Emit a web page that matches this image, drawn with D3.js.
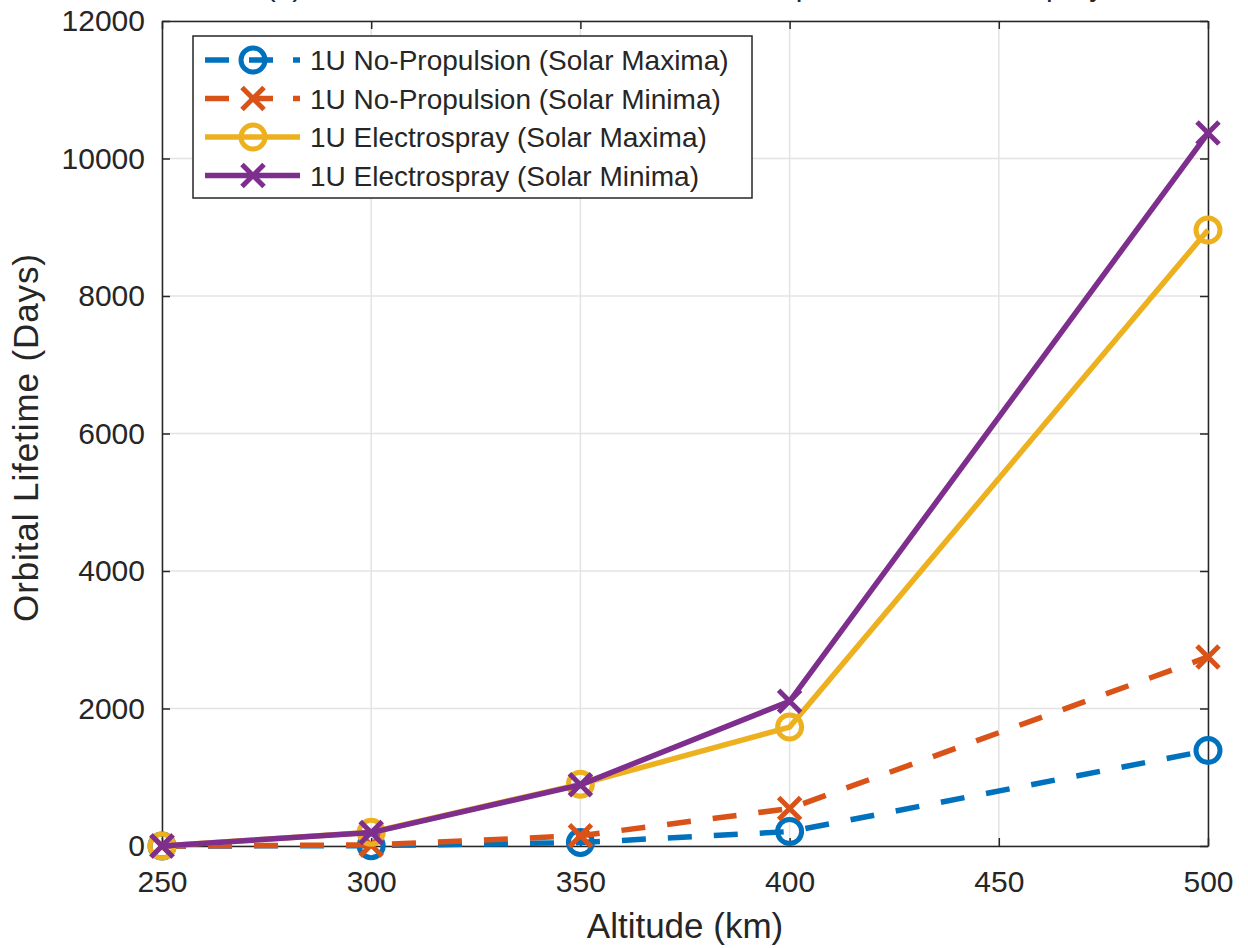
<!DOCTYPE html>
<html>
<head>
<meta charset="utf-8">
<script src="https://cdn.jsdelivr.net/npm/d3@7"></script>
<style>
  body { margin: 0; background: #fff; }
  text { font-family: "Liberation Sans", Arial, sans-serif; fill: #262626; }
</style>
</head>
<body>
<div id="chart"></div>
<script>
// altitude (km)
var altitudes = [250, 300, 350, 400, 500];
// orbital lifetime (days)
var noPropMax = [0, 5, 50, 210, 1390];
var noPropMin = [0, 15, 150, 545, 2750];
var esprayMax = [0, 200, 900, 1730, 8960];
var esprayMin = [0, 195, 890, 2105, 10370];
var xTicks = [250, 300, 350, 400, 450, 500];
var yTicks = [0, 2000, 4000, 6000, 8000, 10000, 12000];

var series = [
  { name: "1U No-Propulsion (Solar Maxima)", values: noPropMax, color: "#0072BD", dash: "24,22", marker: "o" },
  { name: "1U No-Propulsion (Solar Minima)", values: noPropMin, color: "#D95319", dash: "24,22", marker: "x" },
  { name: "1U Electrospray (Solar Maxima)", values: esprayMax, color: "#EDB120", dash: null, marker: "o" },
  { name: "1U Electrospray (Solar Minima)", values: esprayMin, color: "#7E2F8E", dash: null, marker: "x" }
];

var width = 1248, height = 948;
var margin = { left: 162, right: 40, top: 21, bottom: 102 };

var svg = d3.select("#chart").append("svg")
  .attr("width", width)
  .attr("height", height);

var x = d3.scaleLinear().domain([250, 500]).range([margin.left, width - margin.right]);
var y = d3.scaleLinear().domain([0, 12000]).range([height - margin.bottom, margin.top]);

// clipped title, only the descenders peek in at the top
svg.append("text")
  .attr("x", (margin.left + width - margin.right) / 2)
  .attr("y", -4)
  .attr("text-anchor", "middle")
  .style("font-size", "30px")
  .text("(b) 1U CubeSat Orbital Lifetime: No-Propulsion vs Electrospray");

// grid
svg.append("g").selectAll("line.gx")
  .data(xTicks).enter().append("line")
  .attr("x1", function(d) { return x(d); }).attr("x2", function(d) { return x(d); })
  .attr("y1", y(0)).attr("y2", y(12000))
  .attr("stroke", "#e3e3e3").attr("stroke-width", 1.5);
svg.append("g").selectAll("line.gy")
  .data(yTicks).enter().append("line")
  .attr("y1", function(d) { return y(d); }).attr("y2", function(d) { return y(d); })
  .attr("x1", x(250)).attr("x2", x(500))
  .attr("stroke", "#e3e3e3").attr("stroke-width", 1.5);

// axes (ticks pointing inward, box on all sides)
var axisColor = "#262626";
function styleAxis(g) {
  g.select(".domain").attr("stroke", axisColor).attr("stroke-width", 1.5);
  g.selectAll(".tick line").attr("stroke", axisColor).attr("stroke-width", 1.5);
  g.selectAll(".tick text").style("font-size", "30px").attr("fill", "#262626")
    .style("font-family", "Liberation Sans, Arial, sans-serif");
}

svg.append("g")
  .attr("transform", "translate(0," + y(0) + ")")
  .call(d3.axisBottom(x).tickValues(xTicks).tickSize(-8).tickPadding(25).tickSizeOuter(0).tickFormat(d3.format("d")))
  .call(styleAxis);
svg.append("g")
  .attr("transform", "translate(0," + y(12000) + ")")
  .call(d3.axisTop(x).tickValues(xTicks).tickSize(-8).tickFormat("").tickSizeOuter(0))
  .call(styleAxis);
svg.append("g")
  .attr("transform", "translate(" + x(250) + ",0)")
  .call(d3.axisLeft(y).tickValues(yTicks).tickSize(-8).tickPadding(17).tickSizeOuter(0).tickFormat(d3.format("d")))
  .call(styleAxis);
svg.append("g")
  .attr("transform", "translate(" + x(500) + ",0)")
  .call(d3.axisRight(y).tickValues(yTicks).tickSize(-8).tickFormat("").tickSizeOuter(0))
  .call(styleAxis);

// axis labels
svg.append("text")
  .attr("x", (x(250) + x(500)) / 2)
  .attr("y", 938)
  .attr("text-anchor", "middle")
  .style("font-size", "35px")
  .text("Altitude (km)");
svg.append("text")
  .attr("transform", "translate(38,438) rotate(-90)")
  .attr("text-anchor", "middle")
  .style("font-size", "35px")
  .attr("textLength", 368)
  .attr("lengthAdjust", "spacing")
  .text("Orbital Lifetime (Days)");

var line = d3.line()
  .x(function(d) { return x(d[0]); })
  .y(function(d) { return y(d[1]); });

function drawMarker(g, cx, cy, s) {
  if (s.marker === "o") {
    g.append("circle").attr("cx", cx).attr("cy", cy).attr("r", 12)
      .attr("fill", "none").attr("stroke", s.color).attr("stroke-width", 5);
  } else {
    var r = 11;
    g.append("path")
      .attr("d", "M" + (cx - r) + "," + (cy - r) + "L" + (cx + r) + "," + (cy + r) +
                 "M" + (cx - r) + "," + (cy + r) + "L" + (cx + r) + "," + (cy - r))
      .attr("stroke", s.color).attr("stroke-width", 5).attr("fill", "none");
  }
}

series.forEach(function(s) {
  var pts = altitudes.map(function(a, i) { return [a, s.values[i]]; });
  var g = svg.append("g");
  g.append("path")
    .datum(pts)
    .attr("d", line)
    .attr("fill", "none")
    .attr("stroke", s.color)
    .attr("stroke-width", 5.5)
    .attr("stroke-dasharray", s.dash);
  pts.forEach(function(p) { drawMarker(g, x(p[0]), y(p[1]), s); });
});

// legend
var lg = svg.append("g").attr("transform", "translate(193,36)");
lg.append("rect")
  .attr("width", 559).attr("height", 162)
  .attr("fill", "#fff").attr("stroke", axisColor).attr("stroke-width", 1.5);
series.forEach(function(s, i) {
  var ly = 24 + i * 38.5;
  lg.append("line")
    .attr("x1", 12).attr("x2", 107).attr("y1", ly).attr("y2", ly)
    .attr("stroke", s.color).attr("stroke-width", 5.5)
    .attr("stroke-dasharray", s.dash ? "24,20" : null);
  drawMarker(lg, 60, ly, s);
  lg.append("text")
    .attr("x", 117).attr("y", ly + 10)
    .style("font-size", "28px")
    .text(s.name);
});
</script>
</body>
</html>
